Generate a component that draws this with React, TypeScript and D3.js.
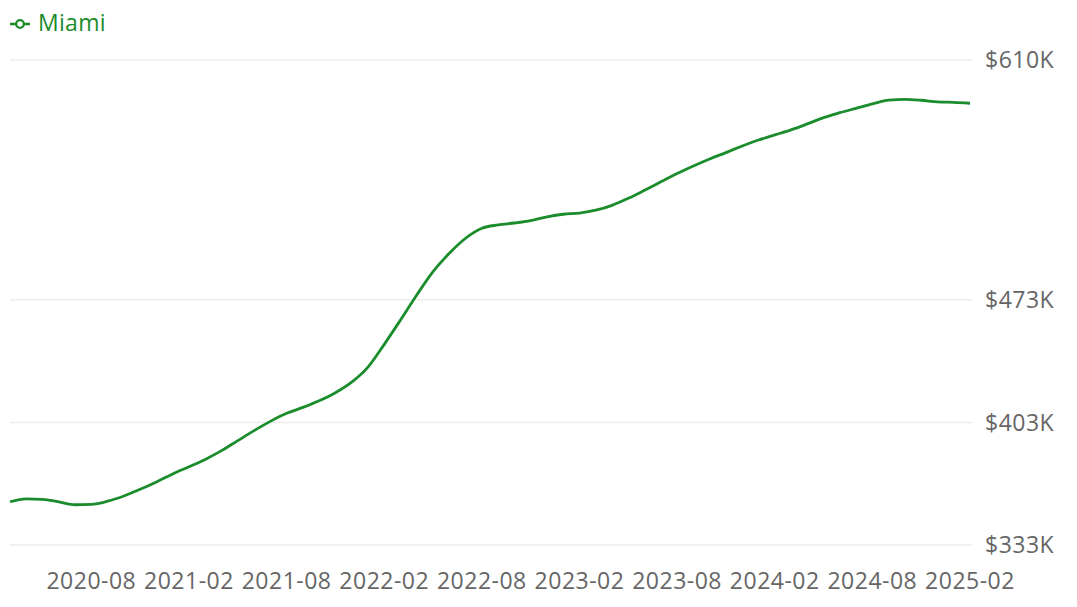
import * as d3 from "d3";
import { useEffect, useRef } from "react";

// monthly values, thousands of dollars
const months = [
  "2020-03", "2020-04", "2020-05", "2020-06", "2020-07", "2020-08", "2020-09", "2020-10", "2020-11", "2020-12",
  "2021-01", "2021-02", "2021-03", "2021-04", "2021-05", "2021-06", "2021-07", "2021-08", "2021-09", "2021-10", "2021-11", "2021-12",
  "2022-01", "2022-02", "2022-03", "2022-04", "2022-05", "2022-06", "2022-07", "2022-08", "2022-09", "2022-10", "2022-11", "2022-12",
  "2023-01", "2023-02", "2023-03", "2023-04", "2023-05", "2023-06", "2023-07", "2023-08", "2023-09", "2023-10", "2023-11", "2023-12",
  "2024-01", "2024-02", "2024-03", "2024-04", "2024-05", "2024-06", "2024-07", "2024-08", "2024-09", "2024-10", "2024-11", "2024-12",
  "2025-01", "2025-02",
];
const miami = [
  357.7, 359.4, 359.1, 357.6, 356.0, 356.2, 358.0, 361.0, 364.8, 369.0,
  373.6, 377.7, 381.9, 386.9, 392.6, 398.3, 403.6, 408.2, 411.6, 415.4, 420.0, 426.0,
  434.6, 447.6, 461.5, 475.8, 489.1, 499.6, 508.2, 513.9, 515.8, 516.9, 518.3, 520.4,
  521.9, 522.6, 524.2, 527.0, 531.0, 535.6, 540.4, 545.2, 549.5, 553.5, 557.1, 560.9,
  564.3, 567.2, 570.1, 573.5, 577.1, 579.9, 582.4, 584.9, 587.1, 587.5, 587.0, 586.1,
  585.8, 585.3,
];
const xTickLabels = ["2020-08", "2021-02", "2021-08", "2022-02", "2022-08", "2023-02", "2023-08", "2024-02", "2024-08", "2025-02"];
const yTicks = [333, 403, 473, 610];
const seriesName = "Miami";

const W = 1077;
const H = 607;
const GREEN = "#1a8c2c";
const FONT = "'Open Sans', sans-serif";

const App = () => {
  const svgRef = useRef<SVGSVGElement>(null);

  useEffect(() => {
    const svg = d3.select(svgRef.current);
    svg.selectAll("*").remove();

    const x = d3.scalePoint<string>().domain(months).range([10, 970]);
    const y = d3.scaleLinear().domain([333, 610]).range([545, 60]);

    // grid lines + y labels
    const yg = svg.append("g");
    yg.selectAll("line")
      .data(yTicks)
      .join("line")
      .attr("x1", 10)
      .attr("x2", 972)
      .attr("y1", (d) => y(d))
      .attr("y2", (d) => y(d))
      .attr("stroke", "#ececec")
      .attr("stroke-width", 1.5);
    yg.selectAll("text")
      .data(yTicks)
      .join("text")
      .attr("x", 985)
      .attr("y", (d) => y(d))
      .attr("dy", "0.36em")
      .attr("fill", "#666")
      .attr("font-size", 23)
      .attr("letter-spacing", 0.5)
      .attr("font-family", FONT)
      .text((d) => `$${d}K`);

    // x labels
    svg.append("g")
      .selectAll("text")
      .data(xTickLabels)
      .join("text")
      .attr("x", (d) => x(d) ?? 0)
      .attr("y", 589)
      .attr("text-anchor", "middle")
      .attr("fill", "#666")
      .attr("font-size", 23)
      .attr("letter-spacing", 0.5)
      .attr("font-family", FONT)
      .text((d) => d);

    // the line
    const line = d3
      .line<number>()
      .x((_d, i) => x(months[i]) ?? 0)
      .y((d) => y(d))
      .curve(d3.curveMonotoneX);

    svg.append("path")
      .datum(miami)
      .attr("d", line)
      .attr("fill", "none")
      .attr("stroke", GREEN)
      .attr("stroke-width", 2.8);

    // legend
    const lg = svg.append("g");
    lg.append("line")
      .attr("x1", 10).attr("x2", 30)
      .attr("y1", 24).attr("y2", 24)
      .attr("stroke", GREEN).attr("stroke-width", 2.5);
    lg.append("circle")
      .attr("cx", 20).attr("cy", 24).attr("r", 3.8)
      .attr("fill", "#fff").attr("stroke", GREEN).attr("stroke-width", 2.2);
    lg.append("text")
      .attr("x", 38)
      .attr("y", 31)
      .attr("fill", GREEN)
      .attr("font-size", 23)
      .attr("letter-spacing", 0.3)
      .attr("font-family", FONT)
      .text(seriesName);
  }, []);

  return (
    <svg
      ref={svgRef}
      width={W}
      height={H}
      style={{ position: "absolute", left: 0, top: 0, background: "#fff" }}
    ></svg>
  );
};

export default App;
